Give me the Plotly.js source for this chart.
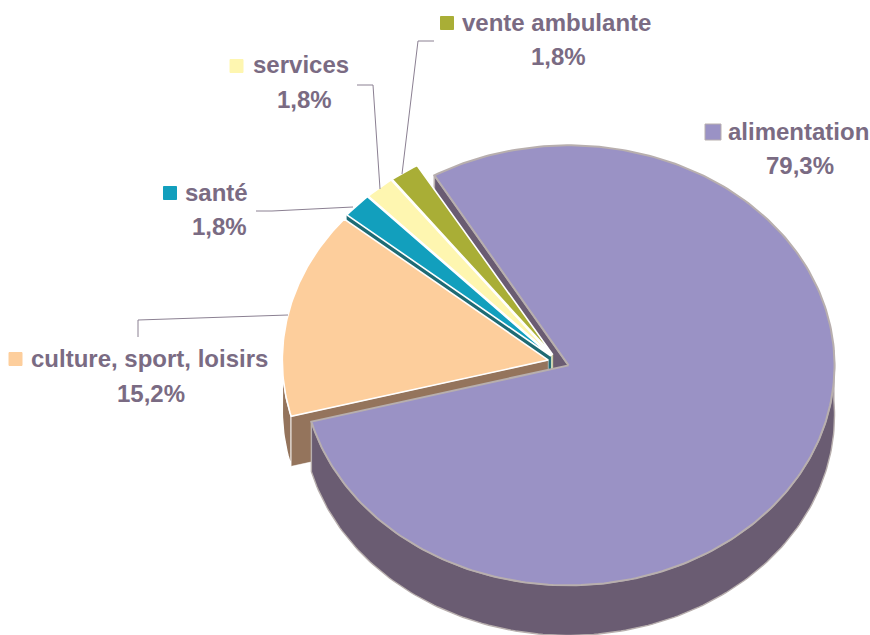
<!DOCTYPE html>
<html>
<head>
<meta charset="utf-8">
<script src="https://cdn.plot.ly/plotly-3.0.1.min.js"></script>
<style>html,body{margin:0;padding:0;background:#fff}#chart{width:870px;height:635px}</style>
</head>
<body>
<div id="chart"></div>
<script>
// --- chart values ---
const categories = ["alimentation", "culture, sport, loisirs", "santé", "services", "vente ambulante"];
const values = [79.3, 15.2, 1.8, 1.8, 1.8];

// --- styles ---
const topColors  = ["#9A92C5", "#FDCE9C", "#129FBD", "#FEF6B0", "#A9AE36"];
const wallColors = ["#6A5C72", "#94745C", "#1E6B74", "#FFFBE0", "#D8DBA0"];
const edgeColors = ["#B8AFAE", "#FFFFFF", "#FFFFFF", "#FFFFFF", "#FFFFFF"];
const textColor = "#7A6B83";
const leaderColor = "#8B8092";

// --- label placement (pixels): key centre, name centre, percent centre ---
const keyX  = [713, 15.5, 170, 236.5, 447];
const keyY  = [132, 359, 193, 66, 23];
const nameX = [798.5, 149, 216.5, 301, 556.5];
const nameY = [131, 358, 192, 64, 22];
const pctX  = [800, 151, 219, 304, 558];
const pctY  = [165, 393, 226, 99, 56];
const leaders = [
  [[288, 138, 138], [315, 320, 337]],
  [[353, 272, 256], [207, 211, 211]],
  [[380, 373, 357], [189, 85, 85]],
  [[402, 418, 434], [174, 41, 41]]
];

// --- pie geometry ---
const cx = 558.7, cy = 362, rx = 266, ry = 220, pull = 0.04, depth = 50, startDeg = -30.3;

const rad = d => d * Math.PI / 180;
let cursor = startDeg;
const slices = values.map(v => {
  const a0 = cursor, a1 = cursor + v / 100 * 360;
  cursor = a1;
  const mid = rad((a0 + a1) / 2);
  return {a0, a1, ax: cx + rx * pull * Math.sin(mid), ay: cy - ry * pull * Math.cos(mid)};
});
function arc(s, a0, a1, dy) {
  const xs = [], ys = [], n = Math.max(2, Math.ceil(Math.abs(a1 - a0)));
  for (let i = 0; i <= n; i++) {
    const a = rad(a0 + (a1 - a0) * i / n);
    xs.push(s.ax + rx * Math.sin(a));
    ys.push(s.ay - ry * Math.cos(a) + dy);
  }
  return {xs, ys};
}
function poly(xs, ys, fill, edge, width, name) {
  return {type: "scatter", mode: "lines", x: xs, y: ys, fill: "toself", fillcolor: fill,
    line: {color: edge, width: width}, hoverinfo: "skip", showlegend: false, name: name};
}
function topFace(i) {
  const s = slices[i], p = arc(s, s.a0, s.a1, 0);
  return poly([s.ax, ...p.xs, s.ax], [s.ay, ...p.ys, s.ay], topColors[i], edgeColors[i], i === 0 ? 2 : 1.6, categories[i]);
}
function cutWall(i, angle) {
  const s = slices[i], a = rad(angle);
  const ex = s.ax + rx * Math.sin(a), ey = s.ay - ry * Math.cos(a);
  return poly([s.ax, ex, ex, s.ax, s.ax], [s.ay, ey, ey + depth, s.ay + depth, s.ay],
    wallColors[i], i === 0 ? edgeColors[0] : (i === 1 ? "#FFFFFF" : wallColors[i]), i === 0 ? 1.6 : 0.5, categories[i] + " wall");
}
function rimWall(i, a0, a1, edge) {
  const s = slices[i], t = arc(s, a0, a1, 0), b = arc(s, a0, a1, depth);
  return poly([...t.xs, ...b.xs.slice().reverse(), t.xs[0]], [...t.ys, ...b.ys.slice().reverse(), t.ys[0]],
    wallColors[i], edge, 1.4, categories[i] + " rim");
}

const traces = [];
// walls, back to front
traces.push(cutWall(0, slices[0].a0));
traces.push(cutWall(4, slices[4].a0));
traces.push(cutWall(3, slices[3].a0));
traces.push(cutWall(2, slices[2].a0));
traces.push(rimWall(1, slices[1].a0, 272, "#FFFFFF"));
traces.push(cutWall(1, slices[1].a0));
traces.push(rimWall(0, 86, slices[0].a1, edgeColors[0]));
// top faces
[4, 3, 2, 1, 0].forEach(i => traces.push(topFace(i)));
// leader lines
leaders.forEach(l => {
  traces.push({type: "scatter", mode: "lines", x: l[0], y: l[1], line: {color: leaderColor, width: 1},
    hoverinfo: "skip", showlegend: false});
});
// legend keys
traces.push({type: "scatter", mode: "markers", x: keyX, y: keyY, text: categories, hoverinfo: "text", showlegend: false,
  marker: {symbol: "square", size: [16, 13, 13, 13, 13], color: topColors, opacity: 1,
    line: {color: edgeColors.map((c, i) => i === 0 ? c : topColors[i]), width: 1}}});

const font = {family: "'Liberation Sans', Arial, sans-serif", size: 24, color: textColor};
const fmt = v => v.toFixed(1).replace(".", ",") + "%";
const annotations = [];
categories.forEach((c, i) => {
  annotations.push({x: nameX[i], y: nameY[i], xref: "x", yref: "y", text: "<b>" + c + "</b>", showarrow: false, font: font, xanchor: "center", yanchor: "middle"});
  annotations.push({x: pctX[i], y: pctY[i], xref: "x", yref: "y", text: "<b>" + fmt(values[i]) + "</b>", showarrow: false, font: font, xanchor: "center", yanchor: "middle"});
});

const hidden = {visible: false, fixedrange: true};
Plotly.newPlot("chart", traces, {
  width: 870, height: 635,
  margin: {l: 0, r: 0, t: 0, b: 0},
  paper_bgcolor: "#fff", plot_bgcolor: "#fff",
  showlegend: false,
  xaxis: {...hidden, range: [0, 870]},
  yaxis: {...hidden, range: [635, 0]},
  annotations: annotations
}, {displayModeBar: false});
</script>
</body>
</html>
